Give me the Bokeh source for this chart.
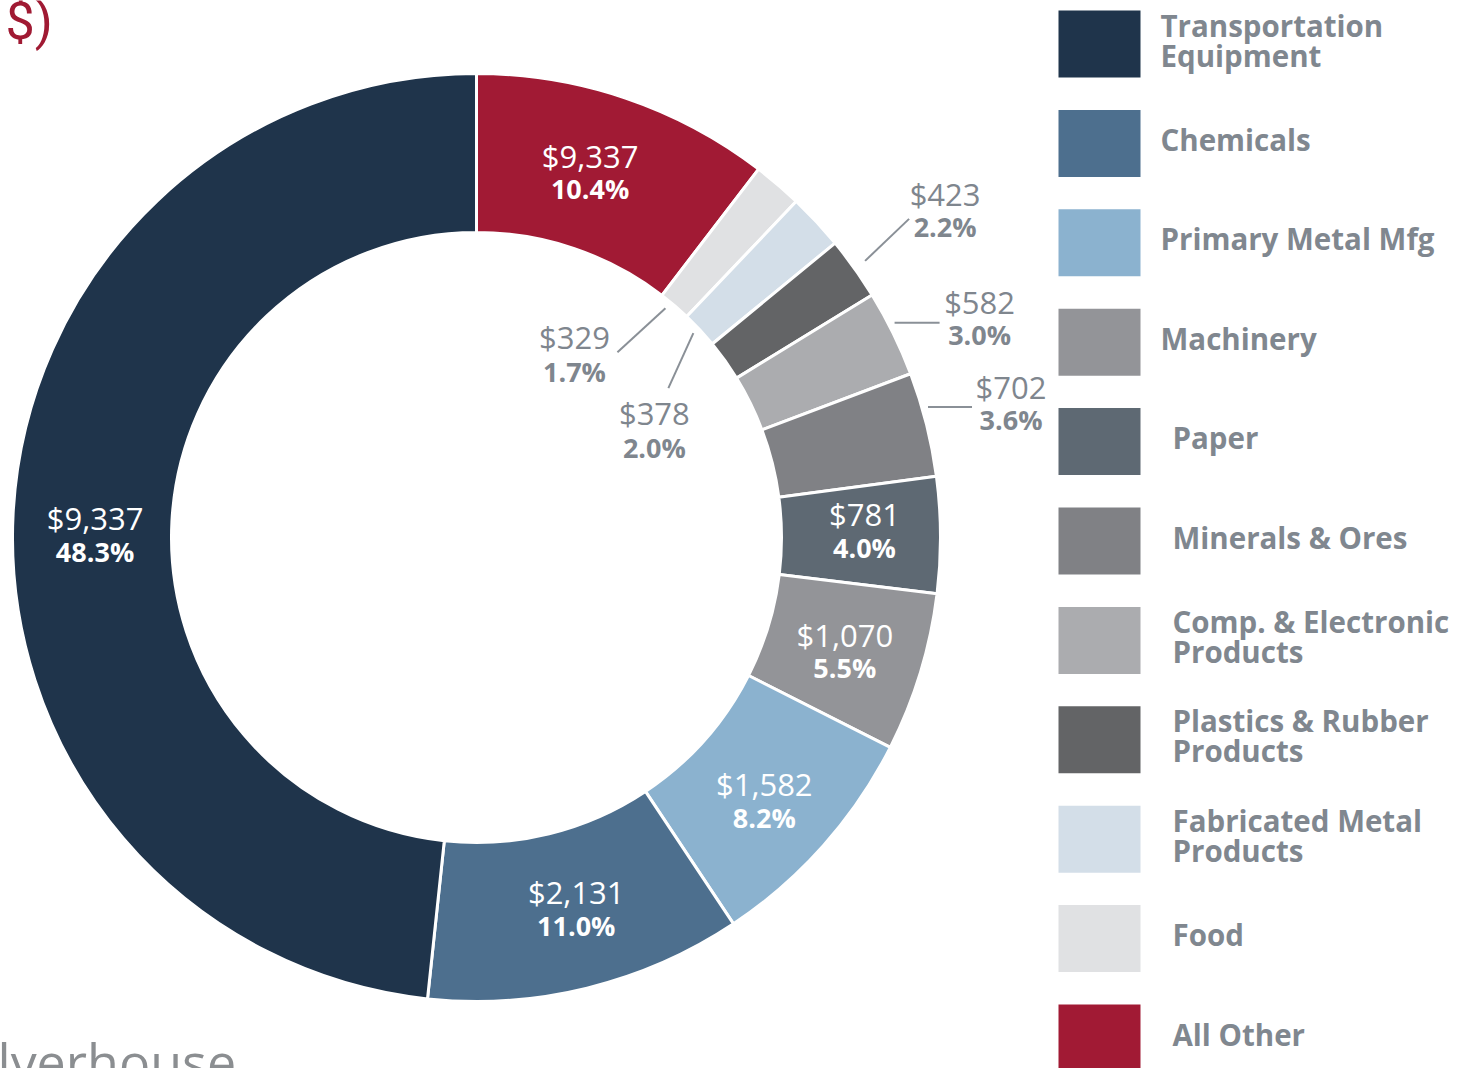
import math
from bokeh.plotting import figure
from bokeh.models import Range1d, ColumnDataSource
from bokeh.core.properties import value
from bokeh.embed import file_html
from bokeh.resources import INLINE

# ---- data (clockwise from 12 o'clock) ----
categories = ["All Other", "Food", "Fabricated Metal Products", "Plastics & Rubber Products",
              "Comp. & Electronic Products", "Minerals & Ores", "Paper", "Machinery",
              "Primary Metal Mfg", "Chemicals", "Transportation Equipment"]
amounts = [2010, 329, 378, 423, 582, 702, 781, 1070, 1582, 2131, 9337]
amount_labels = ["$9,337", "$329", "$378", "$423", "$582", "$702", "$781", "$1,070",
                 "$1,582", "$2,131", "$9,337"]
pct_labels = ["10.4%", "1.7%", "2.0%", "2.2%", "3.0%", "3.6%", "4.0%", "5.5%",
              "8.2%", "11.0%", "48.3%"]
colors = ["#a11a34", "#e0e1e3", "#d3dee8", "#636466", "#abacaf", "#808185",
          "#5e6973", "#939498", "#8bb2cf", "#4d6f8e", "#1f344b"]

legend_labels = ["Transportation\nEquipment", "Chemicals", "Primary Metal Mfg", "Machinery",
                 "Paper", "Minerals & Ores", "Comp. & Electronic\nProducts",
                 "Plastics & Rubber\nProducts", "Fabricated Metal\nProducts", "Food", "All Other"]
legend_colors = ["#1f344b", "#4d6f8e", "#8bb2cf", "#939498", "#5e6973", "#808185",
                 "#abacaf", "#636466", "#d3dee8", "#e0e1e3", "#a11a34"]

# ---- page geometry (data units == screen pixels, y flipped) ----
W, H = 1458, 1068
def Y(sy):
    return H - sy

p = figure(width=W, height=H, x_range=Range1d(0, W), y_range=Range1d(0, H),
           output_backend="svg", toolbar_location=None, min_border=0)
p.axis.visible = False
p.grid.visible = False
p.outline_line_color = None
p.background_fill_color = "white"

FONT = value("Open Sans")
cx, cy = 476, Y(537)
r_in, r_out = 305, 464

total = sum(amounts)
cum = [0.0]
for a in amounts:
    cum.append(cum[-1] + a / total)

starts, ends, mids = [], [], []
for i in range(len(amounts)):
    c0 = cum[i] * 2 * math.pi
    c1 = cum[i + 1] * 2 * math.pi
    starts.append(math.pi / 2 - c1)
    ends.append(math.pi / 2 - c0)
    mids.append(math.pi / 2 - (c0 + c1) / 2)

src = ColumnDataSource(dict(start=starts, end=ends, color=colors))
p.annular_wedge(x=cx, y=cy, inner_radius=r_in, outer_radius=r_out,
                start_angle="start", end_angle="end", direction="anticlock",
                fill_color="color", line_color="white", line_width=3, source=src)

# ---- inside labels ----
r_lab = 385
inside = {0: (-10, 0), 6: (3, -4), 7: (0, 2), 8: (0, 8), 9: (8, -2), 10: (3, 18)}
ix, iy1, iy2, it1, it2 = [], [], [], [], []
for i, (ndx, ndy) in inside.items():
    x = cx + r_lab * math.cos(mids[i]) + ndx
    y = cy + r_lab * math.sin(mids[i]) - ndy
    ix.append(x)
    iy1.append(y + 17)
    iy2.append(y - 16)
    it1.append(amount_labels[i])
    it2.append(pct_labels[i])
p.text(x=ix, y=iy1, text=it1, text_font=FONT, text_font_size="31px", text_color="white",
       text_align="center", text_baseline="middle")
p.text(x=ix, y=iy2, text=it2, text_font=FONT, text_font_size="27px", text_font_style="bold",
       text_color="white", text_align="center", text_baseline="middle")

# ---- outside / hole labels with leaders ----
# index: (radius, angle nudge deg, end dx, end dy(screen), text dx, value dy, pct dy)
leader_style = {
    1: (297, 1.0, -48, 44, -43, -15, 19),
    2: (298, 0.4, -25, 55, -14, 25, 59),
    3: (477, 0.0, 44, -42, 36, -25, 8),
    4: (470, 1.1, 45, 0, 40, -21, 12),
    5: (470, 2.0, 44, 0, 39, -20, 13),
}
gray_txt = "#7f868e"
lx0, ly0, lx1, ly1 = [], [], [], []
ox, oy1, oy2, ot1, ot2 = [], [], [], [], []
for i, (rr, nudge, edx, edy, tdx, vdy, pdy) in leader_style.items():
    ang = mids[i] + math.radians(nudge)
    x0 = cx + rr * math.cos(ang)
    y0 = cy + rr * math.sin(ang)
    x1 = x0 + edx
    y1 = y0 - edy
    lx0.append(x0); ly0.append(y0); lx1.append(x1); ly1.append(y1)
    ox.append(x1 + tdx)
    oy1.append(y1 - vdy)
    oy2.append(y1 - pdy)
    ot1.append(amount_labels[i])
    ot2.append(pct_labels[i])
p.segment(x0=lx0, y0=ly0, x1=lx1, y1=ly1, line_color="#8a9097", line_width=2)
p.text(x=ox, y=oy1, text=ot1, text_font=FONT, text_font_size="31px", text_color=gray_txt,
       text_align="center", text_baseline="middle")
p.text(x=ox, y=oy2, text=ot2, text_font=FONT, text_font_size="27px", text_font_style="bold",
       text_color=gray_txt, text_align="center", text_baseline="middle")

# ---- legend ----
sq_x0, sq_x1 = 1058, 1140
sq_top0, sq_step, sq_h = 10, 99.4, 67
indent = [1160, 1160, 1160, 1160, 1172, 1172, 1172, 1172, 1172, 1172, 1172]
line_gap = 30
lq_l, lq_r, lq_t, lq_b = [], [], [], []
lt_x, lt_y, lt_t = [], [], []
for k in range(len(legend_labels)):
    top = sq_top0 + sq_step * k
    lq_l.append(sq_x0); lq_r.append(sq_x1)
    lq_t.append(Y(top)); lq_b.append(Y(top + sq_h))
    lines = legend_labels[k].split("\n")
    center = top + sq_h / 2 - 4
    first = center - line_gap * (len(lines) - 1) / 2
    for j, ln in enumerate(lines):
        lt_x.append(indent[k])
        lt_y.append(Y(first + j * line_gap))
        lt_t.append(ln)
p.quad(left=lq_l, right=lq_r, top=lq_t, bottom=lq_b, fill_color=legend_colors, line_color=None)
p.text(x=lt_x, y=lt_y, text=lt_t, text_font=FONT, text_font_size="29.5px",
       text_font_style="bold", text_color="#80878f", text_align="left", text_baseline="middle")

# ---- cropped title / footer fragments ----
p.text(x=[5], y=[Y(21)], text=["$)"], text_font=value("Roboto"), text_font_size="52px",
       text_color="#a01a33", text_align="left", text_baseline="alphabetic")
p.text(x=[-3], y=[Y(1060)], text=["lverhouse"], text_font=FONT, text_font_size="52px",
       text_color="#8b8e91", text_align="left", text_baseline="alphabetic")

open("out.html", "w").write(file_html(p, INLINE))
